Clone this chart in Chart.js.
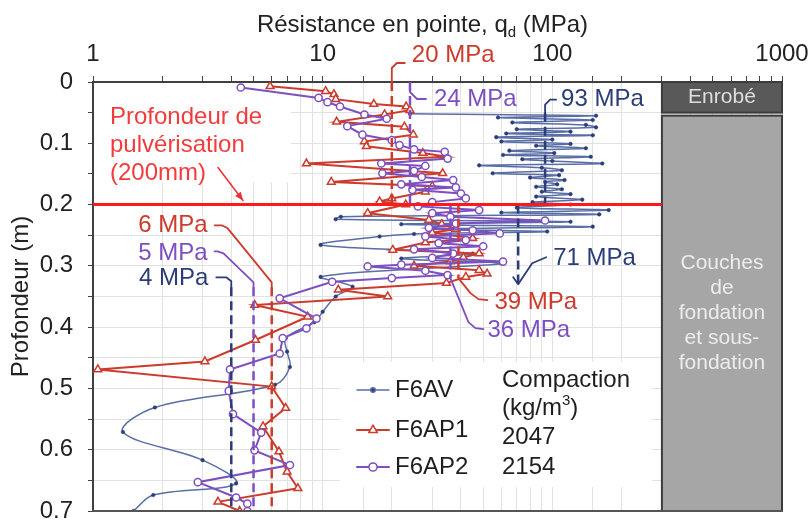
<!DOCTYPE html>
<html lang="fr">
<head>
<meta charset="UTF-8">
<title>Résistance en pointe - planche F6</title>
<script src="https://cdn.jsdelivr.net/npm/chart.js"></script>
<style>
  html, body { margin: 0; padding: 0; background: #fff; }
</style>
</head>
<body>
<canvas id="profil" width="811" height="521"></canvas>
<script>
// Sondage F6AV : profondeur (m) et qd (MPa)
const profAV = [0.052, 0.055, 0.058, 0.062, 0.066, 0.070, 0.074, 0.077, 0.081, 0.084, 0.087, 0.090, 0.094, 0.097,
  0.101, 0.104, 0.108, 0.112, 0.116, 0.119, 0.122, 0.126, 0.129, 0.133, 0.136, 0.140, 0.144, 0.149, 0.152, 0.156,
  0.160, 0.163, 0.167, 0.171, 0.175, 0.179, 0.183, 0.187, 0.192, 0.196, 0.200, 0.205, 0.209, 0.213, 0.216, 0.220,
  0.224, 0.228, 0.232, 0.236, 0.240, 0.244, 0.248, 0.252, 0.266, 0.280, 0.288, 0.296, 0.304, 0.318, 0.334, 0.350,
  0.375, 0.392, 0.418, 0.440, 0.465, 0.494, 0.531, 0.571, 0.617, 0.655, 0.674, 0.700];
const qdAV = [24, 155, 58, 150, 67, 140, 155, 70, 120, 63, 150, 57, 100, 60,
  120, 85, 140, 65, 102, 61, 147, 74, 100, 165, 48, 90, 110, 55, 107, 80,
  113, 93, 105, 85, 110, 90, 120, 85, 135, 82, 120, 70, 176, 60, 160, 12,
  11.4, 120, 22, 150, 30, 95, 25, 17.7, 9.8, 45, 22, 60, 28, 9.8, 13.5, 11.4,
  10, 9.2, 6.9, 7.0, 7.2, 6.2, 1.86, 1.35, 3.0, 4.2, 1.83, 1.5];

// Sondage F6AP1
const profAP1 = [0.007, 0.015, 0.020, 0.028, 0.036, 0.040, 0.046, 0.053, 0.065, 0.073, 0.086, 0.097, 0.105, 0.116,
  0.122, 0.133, 0.149, 0.163, 0.170, 0.179, 0.190, 0.195, 0.200, 0.214, 0.225, 0.232, 0.240, 0.246, 0.255, 0.262,
  0.274, 0.280, 0.286, 0.293, 0.300, 0.307, 0.313, 0.318, 0.328, 0.339, 0.350, 0.364, 0.383, 0.421, 0.456, 0.469,
  0.497, 0.532, 0.562, 0.603, 0.636, 0.663, 0.685, 0.700];
const qdAP1 = [5.9, 10.3, 11.2, 11.4, 16.7, 23.1, 24, 18.6, 11.5, 22.7, 24.8, 15.2, 15.5, 27.3,
  34.6, 8.5, 33.3, 10.9, 30, 28, 20, 17.7, 23, 15.7, 29, 33, 38, 30, 45, 28,
  20.2, 48, 41, 36, 25, 48, 52, 42, 34.6, 11.7, 19.2, 5.06, 8.6, 5.1, 3.07, 1.05,
  6.0, 6.9, 5.5, 6.45, 7.0, 7.8, 3.5, 4.35];

// Sondage F6AP2
const profAP2 = [0.009, 0.026, 0.033, 0.040, 0.053, 0.060, 0.072, 0.086, 0.095, 0.103, 0.110, 0.114, 0.125, 0.133,
  0.137, 0.145, 0.149, 0.155, 0.160, 0.167, 0.172, 0.176, 0.182, 0.190, 0.196, 0.203, 0.209, 0.214, 0.220, 0.226,
  0.231, 0.238, 0.242, 0.247, 0.252, 0.258, 0.263, 0.268, 0.273, 0.280, 0.287, 0.293, 0.298, 0.301, 0.308, 0.315,
  0.320, 0.326, 0.353, 0.386, 0.402, 0.418, 0.443, 0.469, 0.504, 0.542, 0.572, 0.601, 0.625, 0.653, 0.678, 0.688, 0.700];
const qdAP2 = [4.4, 9.6, 10.5, 11.9, 15.2, 19, 12.8, 14.9, 20, 21.6, 25, 34, 35, 18,
  28, 25, 18.2, 27, 37, 22, 38, 24.6, 40, 42, 30, 26, 48, 30, 36, 93,
  38, 29, 45, 59, 28, 42, 32, 50, 25, 37, 30, 61, 22, 15.7, 28, 35,
  20, 11, 6.5, 9.4, 8.5, 6.7, 6.5, 3.95, 3.9, 4.07, 5.4, 5.05, 7.2, 2.86, 4.2, 4.7, 4.7];

// Moyennes par couche (MPa) et étendue des couches (m)
const moyAV = [93, 71, 4];
const moyAP1 = [20, 39, 6];
const moyAP2 = [24, 36, 5];
const zonesAV = [[0.05, 0.2], [0.2, 0.33], [0.335, 0.7]];
const zonesAP = [[0, 0.2], [0.2, 0.32], [0.335, 0.7]];

const compaction = ['', '2047', '2154'];
const noms = ['F6AV', 'F6AP1', 'F6AP2'];
const profPulv = 0.2;      // profondeur de pulvérisation
const enrobeBas = 0.05;    // épaisseur de l'enrobé
const colonneQd = 300;     // début de la colonne des couches
const ticksX = [1, 10, 100, 1000];

const police = '"Liberation Sans", Arial, sans-serif';
const bleu = '#5a6ea6', bleuFonce = '#2b3d78';
const rouge = '#cc3b2c', violet = '#7d4fc1';

const serie = (prof, qd) => prof.map((p, i) => ({ x: qd[i], y: p }));

const traitsMoy = [];
[[moyAV, zonesAV, bleuFonce], [moyAP1, zonesAP, rouge], [moyAP2, zonesAP, violet]].forEach(([moy, zones, c]) => {
  moy.forEach((m, i) => {
    traitsMoy.push({
      data: [{ x: m, y: zones[i][0] }, { x: m, y: zones[i][1] }],
      borderColor: c, borderWidth: 2.5, borderDash: [9, 5],
      pointRadius: 0, order: 0
    });
  });
});

// étiquettes des moyennes : décalages en pixels depuis l'extrémité du trait
const etiquettes = [
  { t: '20 MPa', c: rouge, qd: moyAP1[0], p: zonesAP[0][0], trace: [[0, 8], [0, -14], [5, -19], [13, -19]], tx: 20, ty: -27, al: 'left' },
  { t: '24 MPa', c: violet, qd: moyAP2[0], p: zonesAP[0][0], trace: [[0, 2], [0, 10], [7, 17], [16, 17]], tx: 24, ty: 17, al: 'left' },
  { t: '93 MPa', c: bleuFonce, qd: moyAV[0], p: zonesAV[0][0], trace: [[0, 6], [0, -8], [5, -13], [11, -13]], tx: 16, ty: -13, al: 'left' },
  { t: '71 MPa', c: bleuFonce, qd: moyAV[1], p: zonesAV[1][1], trace: [[-5, -7], [0, 0], [14, -21], [28, -27]], tx: 35, ty: -26, al: 'left' },
  { t: '39 MPa', c: rouge, qd: moyAP1[1], p: zonesAP[1][1], trace: [[0, 0], [12, 15], [20, 21], [29, 22]], tx: 36, ty: 24, al: 'left' },
  { t: '36 MPa', c: violet, qd: moyAP2[1], p: zonesAP[1][1], trace: [[0, 0], [18, 44], [25, 50], [33, 51]], tx: 37, ty: 52, al: 'left' },
  { t: '6 MPa', c: rouge, qd: moyAP1[2], p: zonesAP[2][0], trace: [[0, 0], [0, -5], [-44, -59], [-50, -62], [-57, -62]], tx: -64, ty: -62, al: 'right' },
  { t: '5 MPa', c: violet, qd: moyAP2[2], p: zonesAP[2][0], trace: [[0, 0], [0, -5], [-30, -34], [-36, -36], [-39, -36]], tx: -46, ty: -34, al: 'right' },
  { t: '4 MPa', c: bleuFonce, qd: moyAV[2], p: zonesAV[2][0], trace: [[0, 0], [0, -6], [-5, -10], [-15, -10]], tx: -23, ty: -9, al: 'right' }
];

const styles = [
  { c: bleu, point: 'circle', r: 1.8, fond: bleuFonce },
  { c: rouge, point: 'triangle', r: 4.5, fond: '#fff' },
  { c: violet, point: 'circle', r: 3.6, fond: '#fff' }
];

const decor = {
  id: 'decor',
  beforeDatasetsDraw(chart) {
    const { ctx, chartArea: a, scales: { x, y } } = chart;
    ctx.save();
    // fonds blancs sous le texte de pulvérisation et la légende
    ctx.fillStyle = '#fff';
    ctx.fillRect(a.left + 1, a.top + 1, 197, 99);
    ctx.fillRect(a.left + 247, a.top + 280, 312, 125);
    // colonne des couches
    const gx = x.getPixelForValue(colonneQd);
    const y0 = y.getPixelForValue(0), y1 = y.getPixelForValue(enrobeBas), y2 = y.getPixelForValue(0.7);
    ctx.lineWidth = 2;
    ctx.strokeStyle = '#3c3c3c';
    ctx.fillStyle = '#595959';
    ctx.fillRect(gx, y0, a.right - gx, y1 - y0);
    ctx.strokeRect(gx, y0, a.right - gx, y1 - y0);
    ctx.fillStyle = '#a6a6a6';
    ctx.fillRect(gx, y1 + 3, a.right - gx, y2 - y1 - 3);
    ctx.strokeRect(gx, y1 + 3, a.right - gx, y2 - y1 - 3);
    ctx.restore();
  },
  afterDatasetsDraw(chart) {
    const { ctx, chartArea: a, scales: { x, y } } = chart;
    ctx.save();
    ctx.lineJoin = 'round';
    ctx.lineCap = 'round';

    // textes de la colonne
    const gx = x.getPixelForValue(colonneQd), cx = (gx + a.right) / 2;
    ctx.textAlign = 'center';
    ctx.textBaseline = 'middle';
    ctx.font = '21px ' + police;
    ctx.fillStyle = '#dedede';
    ctx.fillText('Enrobé', cx, (y.getPixelForValue(0) + y.getPixelForValue(enrobeBas)) / 2);
    ctx.fillStyle = '#ececec';
    ['Couches', 'de', 'fondation', 'et sous-', 'fondation'].forEach((l, i) => ctx.fillText(l, cx, a.top + 181 + i * 25));

    // pulvérisation
    ctx.font = '24px ' + police;
    ctx.textAlign = 'left';
    ctx.fillStyle = '#f23c3c';
    ['Profondeur de', 'pulvérisation', '(200mm)'].forEach((l, i) => ctx.fillText(l, a.left + 17, a.top + 35 + i * 28));
    const py = y.getPixelForValue(profPulv);
    const ax = a.left + 150, ay = py - 4;
    ctx.strokeStyle = '#ee3030';
    ctx.fillStyle = '#ee3030';
    ctx.lineWidth = 1.5;
    ctx.beginPath();
    ctx.moveTo(ax - 25, ay - 33);
    ctx.lineTo(ax, ay);
    ctx.stroke();
    const ang = Math.atan2(33, 25);
    ctx.beginPath();
    ctx.moveTo(ax, ay);
    ctx.lineTo(ax - 9 * Math.cos(ang - 0.4), ay - 9 * Math.sin(ang - 0.4));
    ctx.lineTo(ax - 9 * Math.cos(ang + 0.4), ay - 9 * Math.sin(ang + 0.4));
    ctx.closePath();
    ctx.fill();

    // étiquettes des moyennes
    etiquettes.forEach(e => {
      const bx = x.getPixelForValue(e.qd), by = y.getPixelForValue(e.p);
      ctx.strokeStyle = e.c;
      ctx.lineWidth = 1.8;
      ctx.beginPath();
      e.trace.forEach(([dx, dy], i) => i ? ctx.lineTo(bx + dx, by + dy) : ctx.moveTo(bx + dx, by + dy));
      ctx.stroke();
      ctx.fillStyle = e.c;
      ctx.textAlign = e.al;
      ctx.font = '24px ' + police;
      ctx.fillText(e.t, bx + e.tx, by + e.ty);
    });

    // légende
    const lx = a.left + 264, lys = [a.top + 308, a.top + 348, a.top + 385];
    noms.forEach((n, i) => {
      const s = styles[i], ly = lys[i];
      ctx.strokeStyle = s.c;
      ctx.lineWidth = i ? 2 : 1.5;
      ctx.beginPath();
      ctx.moveTo(lx, ly);
      ctx.lineTo(lx + 32, ly);
      ctx.stroke();
      ctx.fillStyle = s.fond;
      ctx.lineWidth = 1.5;
      Chart.helpers.drawPoint(ctx, { pointStyle: s.point, radius: s.r + 0.5, borderWidth: 1.5, rotation: 0 }, lx + 16, ly);
      ctx.fillStyle = '#1e1e1e';
      ctx.textAlign = 'left';
      ctx.font = '24px ' + police;
      ctx.fillText(n, lx + 38, ly);
      if (compaction[i]) ctx.fillText(compaction[i], a.left + 409, ly + (i === 1 ? 7 : 0));
    });
    ctx.fillText('Compaction', a.left + 409, a.top + 298);
    ctx.fillText('(kg/m', a.left + 409, a.top + 326);
    const wk = ctx.measureText('(kg/m').width;
    ctx.font = '15px ' + police;
    ctx.fillText('3', a.left + 409 + wk, a.top + 319);
    const w3 = ctx.measureText('3').width;
    ctx.font = '24px ' + police;
    ctx.fillText(')', a.left + 409 + wk + w3, a.top + 326);

    // bord inférieur
    ctx.strokeStyle = '#555';
    ctx.lineWidth = 2;
    ctx.beginPath();
    ctx.moveTo(a.left, a.bottom);
    ctx.lineTo(a.right, a.bottom);
    ctx.stroke();
    ctx.restore();
  },
  afterDraw(chart) {
    const { ctx, chartArea: a } = chart;
    ctx.save();
    ctx.fillStyle = '#222';
    ctx.textBaseline = 'alphabetic';
    ctx.textAlign = 'left';
    const t1 = 'Résistance en pointe, q', t2 = 'd', t3 = ' (MPa)';
    ctx.font = '24px ' + police;
    const w1 = ctx.measureText(t1).width, w3 = ctx.measureText(t3).width;
    ctx.font = '15px ' + police;
    const w2 = ctx.measureText(t2).width;
    let x0 = (a.left + a.right) / 2 - 15 - (w1 + w2 + w3) / 2;
    ctx.font = '24px ' + police;
    ctx.fillText(t1, x0, 32);
    ctx.font = '15px ' + police;
    ctx.fillText(t2, x0 + w1, 37);
    ctx.font = '24px ' + police;
    ctx.fillText(t3, x0 + w1 + w2, 32);

    ctx.translate(28, (a.top + a.bottom) / 2);
    ctx.rotate(-Math.PI / 2);
    ctx.textAlign = 'center';
    ctx.fillText('Profondeur (m)', 0, 0);
    ctx.restore();
  }
};

new Chart(document.getElementById('profil'), {
  type: 'line',
  data: {
    datasets: [
      {
        label: noms[0], data: serie(profAV, qdAV), borderColor: bleu, borderWidth: 1.5,
        pointStyle: 'circle', pointRadius: styles[0].r, pointBackgroundColor: bleuFonce, pointBorderColor: bleuFonce,
        pointBorderWidth: 0.5, tension: 0.35, order: 3
      },
      {
        label: noms[1], data: serie(profAP1, qdAP1), borderColor: rouge, borderWidth: 2,
        pointStyle: 'triangle', pointRadius: styles[1].r, pointBackgroundColor: '#fff', pointBorderColor: rouge,
        pointBorderWidth: 1.5, tension: 0, order: 2
      },
      {
        label: noms[2], data: serie(profAP2, qdAP2), borderColor: violet, borderWidth: 2,
        pointStyle: 'circle', pointRadius: styles[2].r, pointBackgroundColor: '#fff', pointBorderColor: violet,
        pointBorderWidth: 1.5, tension: 0, order: 1
      },
      {
        label: 'pulvérisation', data: [{ x: 1, y: profPulv }, { x: colonneQd, y: profPulv }],
        borderColor: '#ff1a1a', borderWidth: 3, pointRadius: 0, order: 0
      },
      ...traitsMoy
    ]
  },
  options: {
    responsive: false,
    animation: false,
    layout: { padding: { left: 0, right: 29, top: 0, bottom: 10 } },
    plugins: { legend: { display: false }, tooltip: { enabled: false } },
    scales: {
      x: {
        type: 'logarithmic', position: 'top', min: 1, max: 1000,
        afterFit: s => { s.height = 82; s.paddingLeft = 0; s.paddingRight = 0; },
        ticks: {
          autoSkip: false, maxRotation: 0, padding: 7, color: '#222',
          font: { family: police, size: 24 },
          callback: v => ticksX.includes(v) ? String(v) : ''
        },
        grid: { color: '#e2e2e2', tickColor: '#404040', tickLength: 6 },
        border: { color: '#404040', width: 2 }
      },
      y: {
        type: 'linear', reverse: true, min: 0, max: 0.7,
        afterFit: s => { s.width = 93; s.paddingTop = 0; s.paddingBottom = 0; },
        ticks: {
          stepSize: 0.05, autoSkip: false, padding: 15, color: '#222',
          font: { family: police, size: 24 },
          callback: v => { const r = Math.round(v * 20); return r % 2 ? '' : String(r / 20); }
        },
        grid: { color: '#e2e2e2', tickColor: '#404040', tickLength: 5 },
        border: { color: '#404040', width: 2 }
      }
    }
  },
  plugins: [decor]
});
</script>
</body>
</html>
